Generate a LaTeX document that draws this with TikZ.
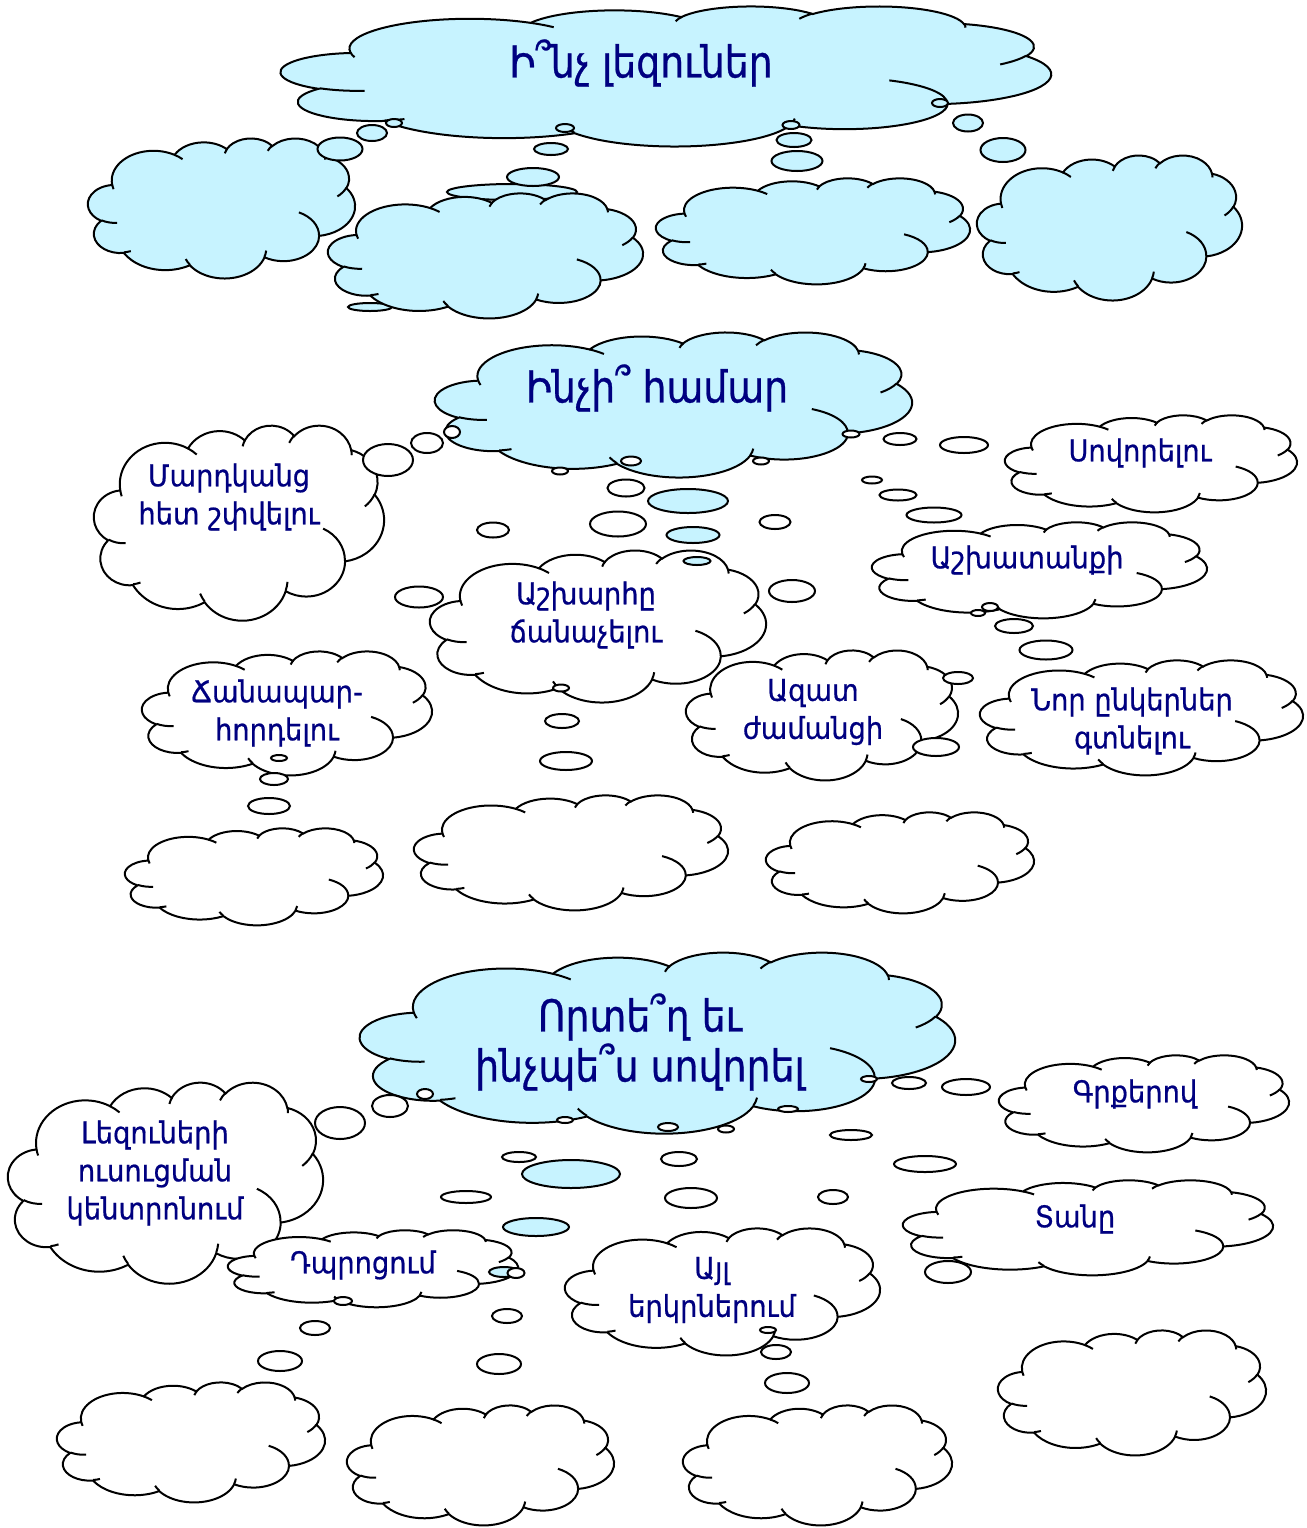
\documentclass[tikz,border=0pt]{standalone}
\usepackage{fontspec}
\setmainfont{DejaVu Sans}
\newfontfamily\armsub[FakeStretch=0.91, FakeBold=0.6]{DejaVu Sans}
\newfontfamily\armttl[FakeStretch=0.86, FakeBold=0.6]{DejaVu Sans}
\usepackage{xcolor}
\definecolor{cldcyan}{RGB}{199,243,255}
\definecolor{cldnavy}{RGB}{0,0,128}
\usetikzlibrary{calc}

\tikzset{
  parc/.code n args={4}{%
    \pgfmathsetmacro\arcst{atan2((#1)*sin(#3),(#2)*cos(#3))}%
    \pgfmathsetmacro\arcen{atan2((#1)*sin(#3+#4),(#2)*cos(#3+#4))}%
    \pgfmathsetmacro\arcdl{mod(\arcen-\arcst+720,360)}%
    \pgfkeysalso{start angle=\arcst, delta angle=\arcdl, x radius=#1, y radius=#2}},
  cldline/.style={draw=black, line width=1pt},
  lbl/.style={text=cldnavy, align=center, inner sep=0pt, font=\armsub\fontsize{15}{19}\selectfont},
  ttl/.style={lbl, font=\armttl\fontsize{22}{25}\selectfont}
}

\newdimen\cldux \newdimen\clduy
% thought cloud in a w x h box, top left corner at (x,y)
\newcommand\thcloud[5]{%
  \pgfmathsetlength\cldux{#3*0.5pt/432}%
  \pgfmathsetlength\clduy{-#4*0.5pt/432}%
  \begin{scope}[shift={(#1,#2)}, x=\the\cldux, y=\the\clduy]
    \path[cldline, fill=#5] (39,143.7)
      arc[parc={67.53}{91.90}{-190.4875}{123.7805}]
      arc[parc={53.33}{72.67}{-144.1024}{89.9452}]
      arc[parc={43.65}{59.45}{-145.8079}{99.7230}]
      arc[parc={48.57}{65.95}{-130.9861}{117.2417}]
      arc[parc={53.33}{72.73}{-78.7089}{109.0269}]
      arc[parc={67.75}{92.20}{-46.2673}{130.2690}]
      arc[parc={57.85}{78.67}{0.6250}{114.0333}]
      arc[parc={67.52}{92.15}{22.4516}{115.1726}]
      arc[parc={77.20}{105.43}{66.2426}{75.7110}]
      arc[parc={43.60}{59.18}{-274.9421}{146.7356}]
      arc[parc={43.45}{59.45}{-246.8285}{152.5189}] -- cycle;
    \path[cldline]
      (46.93,261.77) arc[parc={43.45}{59.45}{86.7420}{26.4295}]
      (69.28,348.99) arc[parc={43.60}{59.18}{73.6105}{11.4475}]
      (164.78,390.90) arc[parc={67.52}{92.15}{137.6242}{14.0811}]
      (288.27,347.51) arc[parc={67.52}{92.15}{6.4533}{15.9984}]
      (341.29,229.54) arc[parc={57.85}{78.67}{-70.2924}{70.9174}]
      (417.98,153.54) arc[parc={53.33}{72.73}{30.3180}{27.7515}]
      (383.24,54.26) arc[parc={48.57}{65.95}{-13.7443}{14.8572}]
      (290.78,39.52) arc[parc={48.57}{65.95}{-149.1815}{18.1954}]
      (221.41,47.20) arc[parc={43.65}{59.45}{-163.4943}{17.6864}]
      (140.00,51.92) arc[parc={67.53}{91.90}{-66.7070}{12.3194}]
      (41.27,157.89) arc[parc={67.53}{91.90}{157.6544}{11.8582}];
  \end{scope}}

\begin{document}
\begin{tikzpicture}[x=0.5pt, y=-0.5pt]
\useasboundingbox (0,0) rectangle (1307,1528);

% bubbles lying behind the clouds
\draw[cldline, fill=cldcyan] (512,192) ellipse[x radius=65*0.5pt, y radius=8*0.5pt];
\draw[cldline, fill=cldcyan] (370,307) ellipse[x radius=22*0.5pt, y radius=4*0.5pt];

% Row 1: which languages
\thcloud{281}{6}{770}{140}{cldcyan}
\thcloud{88}{138}{267}{140}{cldcyan}
\thcloud{328}{193}{315}{125}{cldcyan}
\thcloud{656}{178}{314}{106}{cldcyan}
\thcloud{977}{155}{265}{145}{cldcyan}

% Row 2: what for
\thcloud{435}{332}{477}{145}{cldcyan}
\thcloud{94}{425}{290}{195}{white}
\thcloud{1005}{415}{292}{97}{white}
\thcloud{872}{522}{335}{96}{white}
\thcloud{430}{550}{336}{152}{white}
\thcloud{142}{651}{290}{124}{white}
\thcloud{686}{650}{272}{130}{white}
\thcloud{980}{660}{323}{115}{white}
\thcloud{125}{828}{258}{97}{white}
\thcloud{414}{795}{314}{115}{white}
\thcloud{766}{812}{268}{101}{white}

% Row 3: where and how
\thcloud{360}{952}{595}{181}{cldcyan}
\thcloud{8}{1082}{315}{201}{white}
\thcloud{999}{1055}{290}{97}{white}
\thcloud{903}{1180}{370}{95}{white}
\thcloud{228}{1230}{290}{77}{white}
\thcloud{565}{1228}{315}{127}{white}
\thcloud{998}{1330}{268}{125}{white}
\thcloud{57}{1382}{268}{120}{white}
\thcloud{347}{1405}{267}{120}{white}
\thcloud{683}{1405}{269}{120}{white}

% Tail bubbles
\foreach \bx/\by/\bw/\bh in {394/123/16/8, 372/133/30/16, 340/149/45/23,
    565/128/18/8, 551/149/34/12, 533/177/52/18, 791/125/17/8, 794/140/35/14,
    797/161/51/20, 940/103/16/8, 968/123/30/17, 1003/150/45/24, 688/501/80/24,
    693/535/53/16, 697/561/27/8, 571/1174/98/28, 536/1227/66/18, 504/1272/30/10}
  \draw[cldline, fill=cldcyan] (\bx,\by) ellipse[x radius=\bw*0.25pt, y radius=\bh*0.25pt];
\foreach \bx/\by/\bw/\bh in {452/432/16/12, 427/443/32/20, 388/460/50/32,
    560/471/16/7, 631/461/20/9, 626/488/37/17, 618/524/56/25, 761/461/16/7,
    775/522/31/14, 792/591/46/22, 493/530/32/15, 419/597/48/21, 851/434/17/7,
    900/439/33/12, 964/445/48/16, 872/480/20/7, 898/495/37/11, 934/515/55/15,
    990/607/16/8, 978/613/14/6, 1014/626/38/14, 1046/650/53/19, 958/678/30/12,
    936/747/46/18, 561/688/16/7, 562/721/34/14, 566/761/52/18, 279/758/16/6,
    274/779/28/12, 269/806/42/16,
    425/1094/16/10, 390/1106/36/22, 340/1123/50/32, 565/1120/16/6,
    519/1157/34/10, 466/1197/50/12, 516/1273/17/10, 668/1127/20/8,
    679/1159/36/14, 691/1198/52/20, 726/1129/16/7, 788/1109/20/6,
    851/1135/42/10, 925/1164/62/16, 869/1079/16/6, 909/1083/34/12,
    966/1087/48/16, 833/1197/30/14, 948/1272/46/22, 343/1301/18/8,
    315/1328/30/14, 280/1361/44/20, 507/1316/30/14, 499/1364/44/20,
    768/1330/16/6, 776/1352/30/14, 787/1383/44/20}
  \draw[cldline, fill=white] (\bx,\by) ellipse[x radius=\bw*0.25pt, y radius=\bh*0.25pt];

% Titles
\node[ttl] (which) at (641,63) {Ի՞նչ լեզուներ};
\node[ttl] (whatfor) at (657,388) {Ինչի՞ համար};
\node[ttl] (where) at (640,1042) {Որտե՞ղ եւ\\ինչպե՞ս սովորել};

% Reasons
\node[lbl] (talk) at (229,497) {Մարդկանց\\հետ շփվելու};
\node[lbl] (study) at (1140,453) {Սովորելու};
\node[lbl] (work) at (1027,560) {Աշխատանքի};
\node[lbl] (world) at (586,615) {Աշխարհը\\ճանաչելու};
\node[lbl] (travel) at (277,713) {Ճանապար-\\հորդելու};
\node[lbl] (leisure) at (813,712) {Ազատ\\ժամանցի};
\node[lbl] (friends) at (1132,721) {Նոր ընկերներ\\գտնելու};

% Places
\node[lbl] (centre) at (155,1173) {Լեզուների\\ուսուցման\\կենտրոնում};
\node[lbl] (books) at (1135,1094) {Գրքերով};
\node[lbl] (home) at (1075,1219) {Տանը};
\node[lbl] (school) at (363,1265) {Դպրոցում};
\node[lbl] (abroad) at (712,1290) {Այլ\\երկրներում};

\end{tikzpicture}
\end{document}
